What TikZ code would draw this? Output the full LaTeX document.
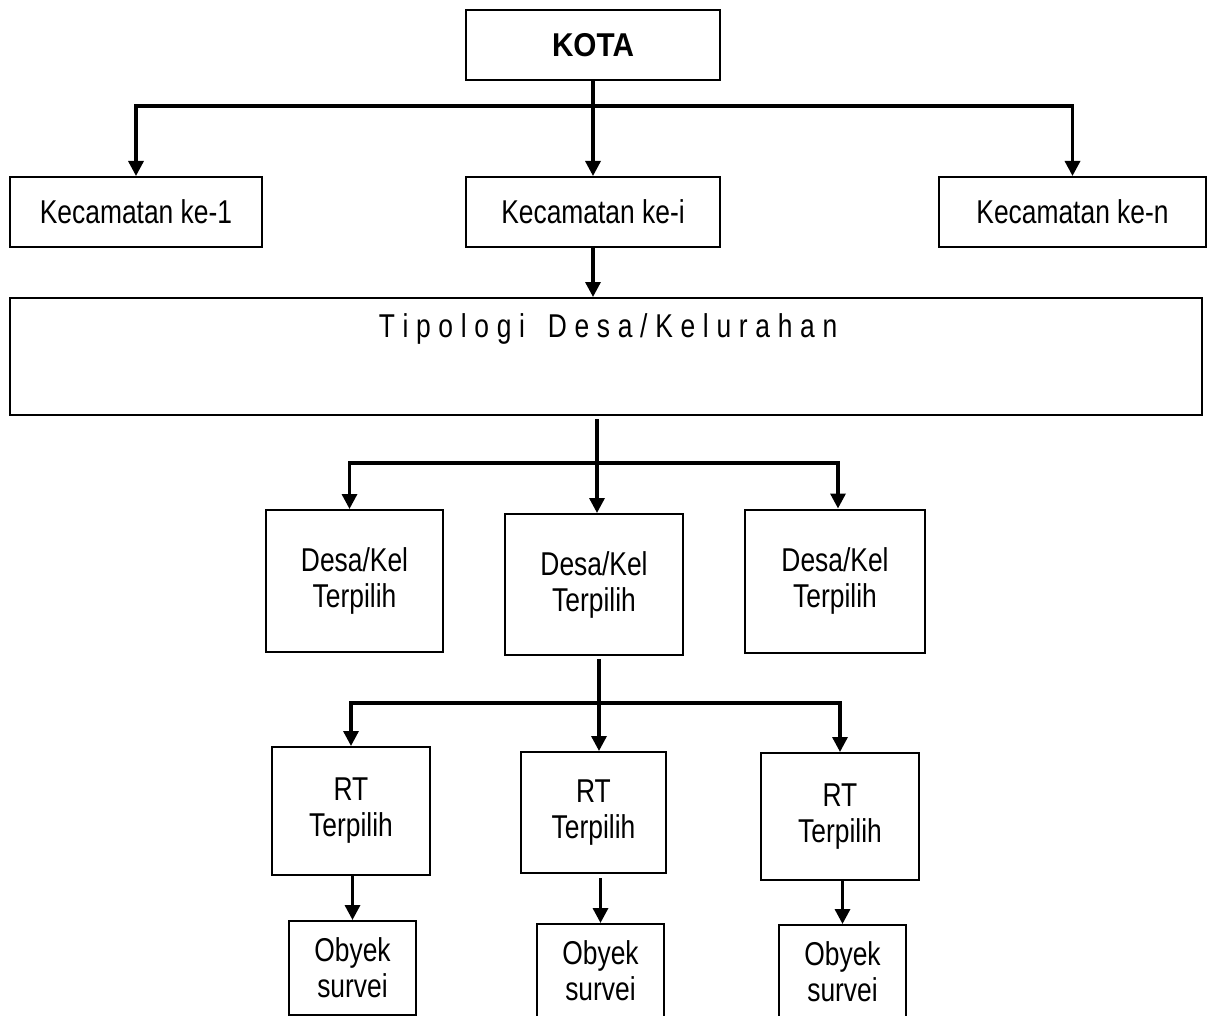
\documentclass[tikz,border=0pt]{standalone}
\usepackage{fontspec}
\setmainfont{Liberation Sans}[FakeStretch=0.8]
\newfontfamily\kotafont{Liberation Sans}[FakeStretch=0.9]
\usetikzlibrary{arrows.meta}
\newcommand\lsp{\kern7.7pt}
\begin{document}
\begin{tikzpicture}[x=1pt,y=-1pt,
  box/.style={draw, line width=2pt, inner sep=0pt, align=center, font=\fontsize{33}{36}\selectfont},
  conn/.style={line width=3.3pt},
  arr/.style={conn, -{Triangle[length=15pt,width=15pt]}},
  txt/.style={inner sep=0pt, font=\fontsize{33}{36}\selectfont}]
\useasboundingbox (0,0) rectangle (1214,1016);
% boxes
\node[box, minimum width=254, minimum height=70] (kota) at (593,45) {\kotafont\bfseries KOTA};
\node[box, minimum width=252, minimum height=70] (kec1) at (136,212) {Kecamatan ke-1};
\node[box, minimum width=254, minimum height=70] (keci) at (593,212) {Kecamatan ke-i};
\node[box, minimum width=267, minimum height=70] (kecn) at (1072.5,212) {Kecamatan ke-n};
\node[box, minimum width=1192, minimum height=117] (tip) at (606,356.5) {};
\node[txt, anchor=base] (tiptext) at (608,337) {T\lsp i\lsp p\lsp o\lsp l\lsp o\lsp g\lsp i\lsp\ \lsp D\lsp e\lsp s\lsp a\lsp /\lsp K\lsp e\lsp l\lsp u\lsp r\lsp a\lsp h\lsp a\lsp n};
\node[box, minimum width=177, minimum height=142] (d1) at (354.5,581) {Desa/Kel\\Terpilih};
\node[box, minimum width=178, minimum height=141] (d2) at (594,584.5) {Desa/Kel\\Terpilih};
\node[box, minimum width=180, minimum height=143] (d3) at (835,581) {Desa/Kel\\Terpilih};
\node[box, minimum width=158, minimum height=128] (rt1) at (351,811) {RT\\Terpilih};
\node[box, minimum width=145, minimum height=121] (rt2) at (593.5,812.5) {RT\\Terpilih};
\node[box, minimum width=158, minimum height=127] (rt3) at (840,816.5) {RT\\Terpilih};
\node[box, minimum width=127, minimum height=94] (ob1) at (352.5,968) {Obyek\\survei};
\node[box, minimum width=127, minimum height=94] (ob2) at (600.5,971) {Obyek\\survei};
\node[box, minimum width=127, minimum height=94] (ob3) at (842.5,972) {Obyek\\survei};
% junctions
\coordinate (j1) at (593,106);
\coordinate (j2) at (597,463);
\coordinate (j3) at (599,703);
% level 1
\draw[arr] (kota.south) -- (keci.north);
\draw[arr] (j1) -| (kec1.north);
\draw[arr] (j1) -| (kecn.north);
\draw[arr] (keci.south) -- (keci.south |- tip.north);
% level 2
\draw[arr, shorten <=3pt] (tip.south -| j2) -- (j2 |- d2.north);
\draw[arr] (j2) -| ([xshift=-5pt]d1.north);
\draw[arr] (j2) -| ([xshift=3pt]d3.north);
% level 3
\draw[conn, shorten <=3pt] (d2.south -| j3) -- (j3);
\draw[arr] (j3) -- (j3 |- rt2.north);
\draw[arr] (j3) -| (rt1.north);
\draw[arr] (j3) -| (rt3.north);
% level 4
\draw[arr] (rt1.south -| ob1.north) -- (ob1.north);
\draw[arr, shorten <=4pt] (rt2.south -| ob2.north) -- (ob2.north);
\draw[arr] (rt3.south -| ob3.north) -- (ob3.north);
\end{tikzpicture}
\end{document}
